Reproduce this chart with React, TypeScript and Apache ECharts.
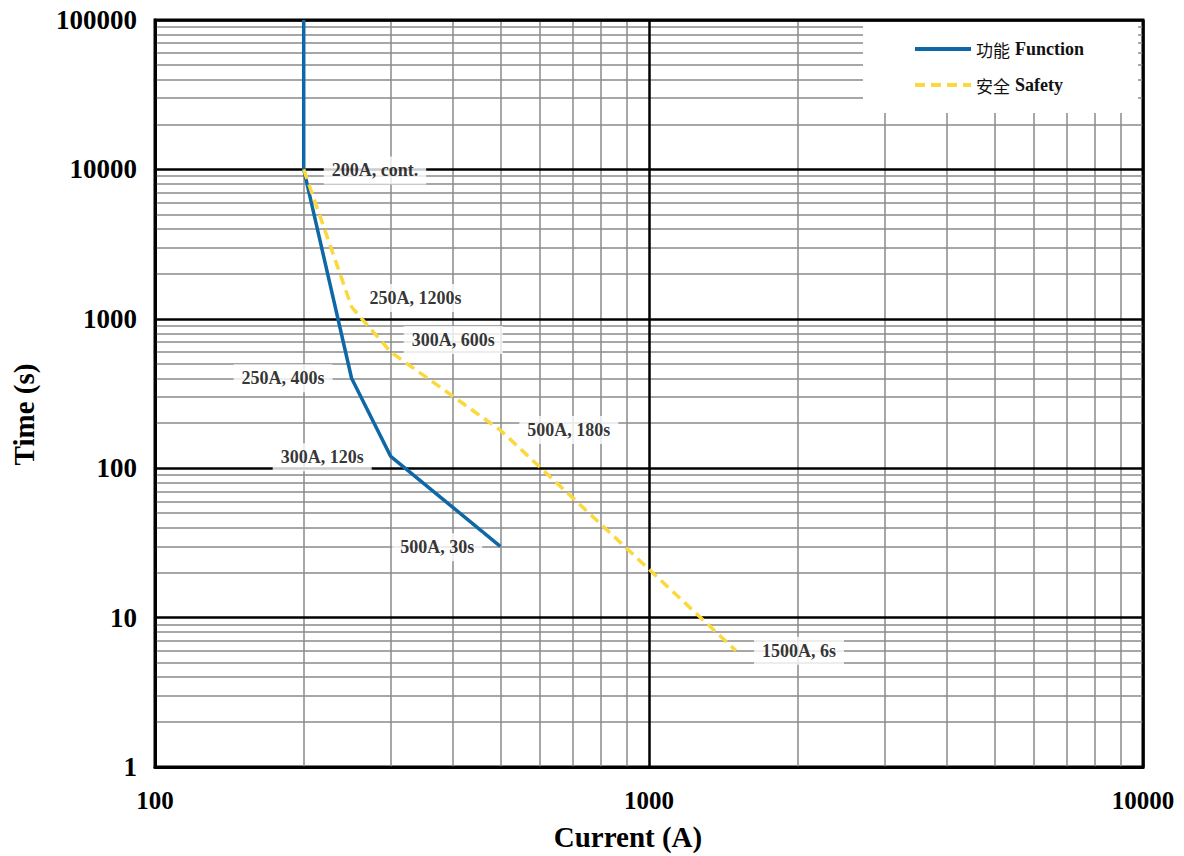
import React, { useEffect, useRef } from "react";
import * as echarts from "echarts";

// ---- Data ----
const seriesNames = ["功能 Function", "安全 Safety"];

const functionCurrent = [200, 200, 250, 300, 500];
const functionTime = [100000, 10000, 400, 120, 30];

const safetyCurrent = [200, 250, 300, 500, 1500];
const safetyTime = [10000, 1200, 600, 180, 6];

const annotationText = [
  "200A, cont.",
  "250A, 1200s",
  "300A, 600s",
  "250A, 400s",
  "300A, 120s",
  "500A, 30s",
  "500A, 180s",
  "1500A, 6s",
];
const annotationCurrent = [200, 250, 300, 250, 300, 500, 500, 1500];
const annotationTime = [10000, 1200, 600, 400, 120, 30, 180, 6];

const xTickLabels = ["100", "1000", "10000"];
const yTickLabels = ["1", "10", "100", "1000", "10000", "100000"];

// ---- Layout / style (kept separate from data) ----
const annotationPlacement: { side: "left" | "right"; offset: [number, number] }[] = [
  { side: "right", offset: [20, 1] },
  { side: "right", offset: [10, -9] },
  { side: "right", offset: [13, -12] },
  { side: "left", offset: [-19, 0] },
  { side: "left", offset: [-19, 1] },
  { side: "left", offset: [-18, 1] },
  { side: "right", offset: [19, 0] },
  { side: "right", offset: [18, 0] },
];

const SERIF = "'Liberation Serif', 'Times New Roman', serif";
const BLUE = "#0f68a6";
const YELLOW = "#fbd83c";

export default function App() {
  const ref = useRef<HTMLDivElement>(null);

  useEffect(() => {
    if (!ref.current) return;
    const chart = echarts.init(ref.current, null, { renderer: "svg" });

    const xMin = Number(xTickLabels[0]);
    const xMax = Number(xTickLabels[xTickLabels.length - 1]);
    const yMin = Number(yTickLabels[0]);
    const yMax = Number(yTickLabels[yTickLabels.length - 1]);

    // gridlines (axis structure)
    const minorStyle = { color: "#8a8a8a", width: 1.5, type: "solid" as const };
    const majorStyle = { color: "#000", width: 2.5, type: "solid" as const };
    const gridData: any[] = [];
    for (let d = xMin; d < xMax; d *= 10) {
      for (let k = 2; k <= 9; k++) gridData.push({ xAxis: d * k, lineStyle: minorStyle });
    }
    for (let d = yMin; d < yMax; d *= 10) {
      for (let k = 2; k <= 9; k++) gridData.push({ yAxis: d * k, lineStyle: minorStyle });
    }
    xTickLabels.forEach((t) => gridData.push({ xAxis: Number(t), lineStyle: majorStyle }));
    yTickLabels.forEach((t) => gridData.push({ yAxis: Number(t), lineStyle: majorStyle }));

    const labelData = annotationText.map((txt, i) => {
      const p = annotationPlacement[i];
      return {
        value: [annotationCurrent[i], annotationTime[i]],
        label: {
          show: true,
          formatter: txt,
          position: p.side,
          distance: 0,
          offset: p.offset,
          fontFamily: SERIF,
          fontWeight: "bold",
          fontSize: 18,
          color: "#000",
          textBorderWidth: 0,
          backgroundColor: "#fff",
          padding: [5, 8, 5, 8],
        },
      };
    });

    chart.setOption({
      animation: false,
      backgroundColor: "#fff",
      grid: {
        left: 155,
        right: 41,
        top: 20,
        bottom: 84,
        show: true,
        borderColor: "#000",
        borderWidth: 3,
        backgroundColor: "transparent",
      },
      legend: {
        data: seriesNames,
        orient: "vertical",
        left: 863,
        top: 22,
        z: 10,
        backgroundColor: "#fff",
        padding: [18, 54, 19, 50],
        itemWidth: 56,
        itemHeight: 14,
        itemGap: 18,
        itemStyle: { opacity: 0 },
        lineStyle: { width: 4 },
        formatter: (name: string) => {
          const [cn, en] = name.split(" ");
          return `{cn|${cn}} {en|${en}}`;
        },
        textStyle: {
          color: "#000",
          fontSize: 18,
          rich: {
            cn: { fontFamily: "'Noto Sans CJK SC'", fontSize: 17, color: "#111" },
            en: { fontFamily: SERIF, fontWeight: "bold", fontSize: 18, color: "#111" },
          },
        },
      },
      xAxis: {
        type: "log",
        logBase: 10,
        min: xMin,
        max: xMax,
        name: "Current (A)",
        nameLocation: "middle",
        nameGap: 55,
        nameTextStyle: {
          fontFamily: SERIF,
          fontWeight: "bold",
          fontSize: 29,
          color: "#000",
          padding: [0, 42, 0, 0],
        },
        axisLine: { show: true, lineStyle: { color: "#000", width: 3 } },
        axisTick: { show: false },
        splitLine: { show: false },
        axisLabel: {
          fontFamily: SERIF,
          fontWeight: "bold",
          fontSize: 25,
          color: "#000",
          margin: 21,
          formatter: (v: number) => String(Math.round(v)),
        },
      },
      yAxis: {
        type: "log",
        logBase: 10,
        min: yMin,
        max: yMax,
        name: "Time (s)",
        nameLocation: "middle",
        nameGap: 117,
        nameTextStyle: {
          fontFamily: SERIF,
          fontWeight: "bold",
          fontSize: 29,
          color: "#000",
          padding: [0, 42, 0, 0],
        },
        axisLine: { show: true, lineStyle: { color: "#000", width: 3 } },
        axisTick: { show: false },
        splitLine: { show: false },
        axisLabel: {
          fontFamily: SERIF,
          fontWeight: "bold",
          fontSize: 27,
          color: "#000",
          margin: 18,
          formatter: (v: number) => String(Math.round(v)),
        },
      },
      series: [
        {
          name: "grid",
          type: "line",
          z: 1,
          data: [[xMin, yMin]],
          symbol: "none",
          lineStyle: { opacity: 0 },
          silent: true,
          markLine: {
            z: 1,
            silent: true,
            symbol: ["none", "none"],
            label: { show: false },
            emphasis: { disabled: true },
            data: gridData,
          },
        },
        {
          name: seriesNames[0],
          type: "line",
          z: 2,
          data: functionCurrent.map((x, i) => [x, functionTime[i]]),
          symbol: "none",
          lineStyle: { color: BLUE, width: 3.5 },
          itemStyle: { color: BLUE },
        },
        {
          name: seriesNames[1],
          type: "line",
          z: 2,
          data: safetyCurrent.map((x, i) => [x, safetyTime[i]]),
          symbol: "none",
          lineStyle: { color: YELLOW, width: 3.5, type: [10, 6] },
          itemStyle: { color: YELLOW },
        },
        {
          name: "labels",
          type: "scatter",
          z: 3,
          symbolSize: 0,
          silent: true,
          data: labelData,
        },
      ],
    });

    return () => chart.dispose();
  }, []);

  return (
    <div
      ref={ref}
      style={{ position: "fixed", left: 0, top: 0, width: 1184, height: 856 }}
    />
  );
}
